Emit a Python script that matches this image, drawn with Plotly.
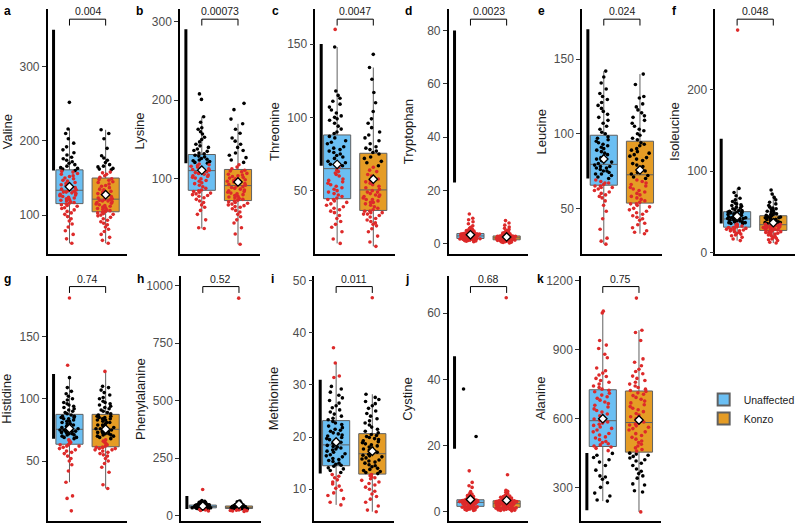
import numpy as np
import plotly.graph_objects as go

groups = ["Unaffected", "Konzo"]
letters = ["a", "b", "c", "d", "e", "f", "g", "h", "i", "j", "k"]
analytes = ["Valine", "Lysine", "Threonine", "Tryptophan", "Leucine", "Isoleucine",
            "Histidine", "Phenylalanine", "Methionine", "Cystine", "Alanine"]
p_values = ["0.004", "0.00073", "0.0047", "0.0023", "0.024", "0.048",
            "0.74", "0.52", "0.011", "0.68", "0.75"]
ref_low = [160, 120, 67, 23, 70, 36, 68, 29, 13, 19, 200]
ref_high = [350, 290, 150, 80, 170, 140, 120, 85, 31, 47, 450]
y_ranges = [[48, 378], [5, 316], [7, 174], [-3.7, 88.1], [19.6, 183.7], [-1, 299],
            [1.8, 198.4], [-24, 1040], [3.9, 50.8], [-2.9, 71.2], [153, 1220]]
y_ticks = [[100, 200, 300], [100, 200, 300], [50, 100, 150], [0, 20, 40, 60, 80],
           [50, 100, 150], [0, 100, 200, 300], [50, 100, 150], [0, 250, 500, 750, 1000],
           [10, 20, 30, 40, 50], [0, 20, 40, 60], [300, 600, 900, 1200]]

valine_unaffected = [62, 68, 74, 79, 84, 88, 92, 95, 98, 101, 103, 105, 107, 109, 110, 112, 113, 114, 115,
                     116, 117, 118, 119, 120, 121, 122, 123, 124, 125, 126, 127, 128, 129, 130, 131, 131, 132, 133,
                     134, 135, 137, 138, 140, 141, 143, 144, 146, 147, 149, 150, 152, 153, 155, 156, 158, 159, 160,
                     162, 163, 164, 166, 168, 170, 172, 174, 176, 178, 181, 184, 188, 192, 197, 203, 210, 216, 252]
valine_konzo = [62, 66, 70, 74, 78, 81, 84, 87, 89, 91, 93, 95, 97, 99, 100, 101, 102, 103, 104,
                105, 106, 107, 108, 109, 110, 111, 112, 113, 114, 115, 116, 117, 118, 119, 119, 120, 121, 121,
                122, 123, 125, 126, 128, 129, 131, 132, 134, 135, 137, 139, 140, 142, 144, 145, 147, 148, 149,
                151, 153, 155, 157, 158, 161, 162, 163, 165, 166, 168, 171, 174, 177, 180, 190, 203, 210, 215]
lysine_unaffected = [37, 38, 48, 55, 60, 64, 67, 70, 72, 74, 76, 78, 79, 80, 81, 82, 83, 84, 85,
                     86, 88, 90, 92, 94, 95, 97, 98, 100, 101, 102, 103, 104, 105, 106, 107, 108, 109, 110,
                     111, 112, 113, 114, 115, 116, 117, 118, 119, 120, 121, 122, 123, 124, 125, 126, 128, 129, 130,
                     132, 133, 135, 136, 138, 140, 142, 144, 147, 150, 153, 157, 160, 163, 165, 172, 179, 201, 208]
lysine_konzo = [17, 30, 38, 44, 48, 52, 55, 58, 60, 62, 64, 65, 66, 67, 68, 69, 70, 71, 72,
                73, 74, 75, 76, 77, 78, 79, 80, 81, 82, 83, 84, 85, 86, 87, 88, 89, 90, 91,
                92, 93, 94, 95, 96, 97, 98, 99, 100, 101, 102, 103, 104, 105, 106, 107, 109, 110, 111,
                113, 115, 118, 121, 124, 127, 130, 133, 136, 140, 144, 148, 152, 158, 163, 170, 176, 188, 196]
threonine_unaffected = [14, 17, 22, 25, 27, 29, 31, 33, 35, 36, 37, 38, 39, 40, 41, 42, 43, 44, 44,
                        45, 46, 47, 48, 49, 50, 51, 52, 53, 54, 55, 56, 57, 58, 60, 61, 62, 63, 64,
                        66, 67, 68, 69, 70, 72, 73, 74, 75, 76, 77, 78, 79, 80, 82, 83, 84, 86, 87,
                        89, 90, 92, 94, 96, 98, 99, 100, 101, 103, 105, 107, 109, 111, 113, 115, 118, 148, 160]
threonine_konzo = [12, 15, 19, 22, 24, 26, 27, 28, 29, 30, 31, 32, 33, 34, 34, 35, 35, 36, 36,
                   37, 38, 39, 40, 41, 42, 42, 43, 44, 44, 45, 46, 46, 47, 47, 48, 49, 49, 50,
                   51, 52, 53, 54, 55, 56, 57, 58, 60, 61, 63, 64, 66, 67, 69, 70, 72, 73, 75,
                   76, 77, 78, 79, 80, 82, 84, 86, 88, 90, 93, 96, 99, 104, 110, 117, 126, 134, 143]
tryptophan_unaffected = [0.8, 1.0, 1.1, 1.2, 1.3, 1.4, 1.5, 1.5, 1.6, 1.6, 1.7, 1.7, 1.8, 1.8, 1.8, 1.9, 1.9, 2.0, 2.0,
                         2.0, 2.1, 2.1, 2.2, 2.3, 2.3, 2.4, 2.4, 2.5, 2.5, 2.6, 2.6, 2.7, 2.7, 2.8, 2.8, 2.8, 2.9, 2.9,
                         3.0, 3.0, 3.1, 3.1, 3.2, 3.2, 3.3, 3.3, 3.4, 3.4, 3.5, 3.5, 3.6, 3.6, 3.7, 3.7, 3.7, 3.8, 3.8,
                         3.9, 4.0, 4.1, 4.2, 4.3, 4.4, 4.6, 4.8, 5.0, 5.2, 5.5, 5.8, 6.2, 6.8, 7.5, 8.3, 9.0, 9.6, 11.2]
tryptophan_konzo = [0.3, 0.5, 0.6, 0.7, 0.8, 0.9, 1.0, 1.0, 1.1, 1.1, 1.2, 1.2, 1.3, 1.3, 1.3, 1.4, 1.4, 1.5, 1.5,
                    1.5, 1.6, 1.6, 1.7, 1.7, 1.8, 1.8, 1.8, 1.9, 1.9, 2.0, 2.0, 2.0, 2.1, 2.1, 2.1, 2.2, 2.2, 2.2,
                    2.3, 2.3, 2.4, 2.4, 2.4, 2.5, 2.5, 2.5, 2.6, 2.6, 2.7, 2.7, 2.7, 2.8, 2.8, 2.8, 2.9, 2.9, 2.9,
                    3.0, 3.1, 3.2, 3.3, 3.4, 3.5, 3.6, 3.8, 4.0, 4.2, 4.4, 4.7, 5.0, 5.4, 5.8, 6.3, 7.0, 7.8, 8.7]
leucine_unaffected = [26, 28, 30, 36, 43, 48, 52, 55, 57, 58, 59, 60, 61, 62, 63, 64, 64, 65, 65,
                      66, 67, 67, 68, 69, 70, 71, 72, 73, 73, 74, 75, 75, 76, 77, 77, 78, 78, 79,
                      80, 81, 82, 83, 84, 85, 86, 87, 88, 89, 90, 91, 92, 93, 94, 95, 96, 97, 98,
                      100, 101, 103, 105, 107, 109, 111, 113, 115, 117, 119, 121, 123, 125, 127, 130, 134, 138, 142]
leucine_konzo = [33, 34, 35, 37, 39, 40, 42, 43, 44, 45, 46, 47, 48, 49, 50, 51, 52, 53, 53,
                 54, 55, 56, 57, 58, 59, 60, 61, 62, 63, 64, 65, 66, 67, 68, 69, 70, 71, 72,
                 73, 74, 75, 77, 78, 79, 80, 82, 83, 84, 85, 86, 87, 88, 89, 90, 92, 93, 94,
                 96, 97, 99, 100, 102, 103, 105, 107, 109, 111, 112, 114, 116, 118, 120, 124, 125, 133, 140]
isoleucine_unaffected = [15, 17, 19, 21, 22, 23, 24, 25, 26, 27, 27, 28, 28, 29, 29, 30, 30, 31, 31,
                         32, 33, 33, 34, 34, 35, 35, 36, 36, 37, 37, 38, 38, 39, 39, 40, 40, 41, 41,
                         42, 42, 43, 43, 44, 44, 45, 45, 46, 46, 47, 47, 48, 48, 49, 49, 49, 50, 50,
                         51, 52, 52, 53, 54, 55, 56, 57, 58, 59, 60, 61, 63, 65, 67, 70, 74, 79, 273]
isoleucine_konzo = [12, 13, 15, 16, 17, 18, 19, 20, 21, 22, 23, 23, 24, 25, 25, 26, 26, 27, 27,
                    28, 28, 29, 29, 29, 30, 30, 30, 31, 31, 31, 32, 32, 32, 33, 33, 33, 34, 34,
                    35, 35, 36, 36, 37, 37, 38, 38, 39, 40, 40, 41, 41, 42, 43, 43, 44, 44, 45,
                    46, 47, 47, 48, 49, 50, 51, 52, 53, 54, 55, 56, 58, 60, 62, 65, 68, 72, 77]
histidine_unaffected = [10, 20, 22, 33, 42, 47, 50, 52, 54, 56, 57, 58, 59, 60, 61, 62, 62, 63, 63,
                        64, 65, 66, 67, 68, 69, 69, 70, 71, 71, 72, 72, 73, 73, 74, 74, 74, 75, 75,
                        76, 76, 77, 78, 78, 79, 80, 80, 81, 82, 82, 83, 84, 84, 85, 85, 86, 86, 87,
                        88, 89, 90, 91, 92, 93, 94, 95, 96, 97, 99, 100, 102, 104, 106, 109, 117, 127, 181]
histidine_konzo = [28, 31, 41, 45, 48, 50, 52, 54, 55, 56, 57, 58, 59, 59, 60, 60, 61, 61, 61,
                   62, 63, 64, 65, 66, 67, 68, 69, 70, 70, 71, 71, 72, 72, 73, 73, 74, 74, 75,
                   76, 76, 77, 78, 79, 79, 80, 81, 81, 82, 83, 83, 84, 84, 85, 85, 86, 86, 87,
                   88, 89, 90, 91, 92, 93, 94, 95, 96, 97, 98, 100, 101, 103, 105, 107, 109, 110, 122]
phenylalanine_unaffected = [20, 22, 24, 26, 27, 28, 29, 30, 30, 31, 31, 32, 32, 32, 33, 33, 33, 33, 33,
                            34, 34, 34, 35, 35, 35, 36, 36, 36, 37, 37, 37, 37, 38, 38, 38, 38, 39, 39,
                            39, 40, 40, 40, 41, 41, 41, 42, 42, 42, 43, 43, 43, 44, 44, 44, 45, 45, 45,
                            46, 46, 47, 47, 48, 48, 49, 50, 51, 52, 53, 54, 55, 56, 58, 60, 62, 65, 113]
phenylalanine_konzo = [18, 20, 21, 22, 23, 24, 25, 26, 27, 28, 28, 29, 29, 29, 30, 30, 30, 30, 30,
                       31, 31, 31, 32, 32, 32, 33, 33, 33, 33, 34, 34, 34, 34, 35, 35, 35, 35, 35,
                       36, 36, 36, 37, 37, 37, 38, 38, 38, 38, 39, 39, 39, 39, 40, 40, 40, 41, 41,
                       42, 42, 43, 43, 44, 44, 45, 46, 47, 48, 49, 50, 51, 53, 55, 57, 60, 63, 945]
methionine_unaffected = [7.0, 7.5, 8.2, 8.8, 9.3, 9.8, 10.2, 10.6, 11.0, 11.4, 11.8, 12.2, 12.5, 12.8, 13.2, 13.6, 13.9, 14.1, 14.4,
                         14.6, 14.8, 15.0, 15.3, 15.5, 15.7, 15.9, 16.2, 16.4, 16.6, 16.8, 17.1, 17.3, 17.5, 17.7, 17.9, 18.1, 18.2, 18.4,
                         18.6, 18.8, 19.0, 19.3, 19.5, 19.7, 19.9, 20.2, 20.4, 20.6, 20.8, 21.1, 21.3, 21.5, 21.8, 22.1, 22.4, 22.7, 23.0,
                         23.3, 23.6, 24.0, 24.4, 24.8, 25.2, 25.6, 26.0, 26.5, 27.0, 27.5, 28.0, 28.6, 29.2, 29.7, 31.4, 31.7, 34.2, 37.1]
methionine_konzo = [5.7, 6.0, 6.8, 7.5, 8.1, 8.6, 9.1, 9.6, 10.0, 10.4, 10.8, 11.1, 11.4, 11.7, 12.0, 12.2, 12.4, 12.6, 12.8,
                    13.0, 13.2, 13.4, 13.6, 13.8, 14.0, 14.3, 14.5, 14.7, 15.0, 15.2, 15.4, 15.6, 15.8, 16.0, 16.2, 16.4, 16.5, 16.7,
                    16.9, 17.1, 17.3, 17.5, 17.7, 17.9, 18.1, 18.3, 18.5, 18.7, 18.9, 19.1, 19.3, 19.5, 19.7, 19.9, 20.1, 20.3, 20.5,
                    20.8, 21.1, 21.5, 21.9, 22.3, 22.7, 23.1, 23.5, 24.0, 24.5, 25.0, 25.5, 26.0, 26.4, 26.8, 27.2, 27.6, 28.2, 46.7]
cystine_unaffected = [0.3, 0.4, 0.5, 0.6, 0.7, 0.8, 0.9, 1.0, 1.0, 1.1, 1.1, 1.2, 1.2, 1.3, 1.3, 1.4, 1.4, 1.5, 1.5,
                      1.6, 1.7, 1.8, 1.9, 2.0, 2.0, 2.1, 2.2, 2.2, 2.3, 2.3, 2.4, 2.4, 2.5, 2.5, 2.6, 2.6, 2.7, 2.7,
                      2.8, 2.8, 2.9, 2.9, 2.9, 3.0, 3.0, 3.0, 3.1, 3.1, 3.1, 3.2, 3.2, 3.3, 3.3, 3.3, 3.4, 3.4, 3.5,
                      3.6, 3.7, 3.8, 3.9, 4.0, 4.2, 4.4, 4.6, 4.8, 5.0, 5.3, 5.6, 6.0, 7.3, 7.8, 8.8, 12.3, 22.7, 37.1]
cystine_konzo = [0.2, 0.3, 0.4, 0.5, 0.5, 0.6, 0.7, 0.7, 0.8, 0.8, 0.9, 0.9, 1.0, 1.0, 1.0, 1.1, 1.1, 1.2, 1.2,
                 1.3, 1.4, 1.5, 1.5, 1.6, 1.7, 1.7, 1.8, 1.8, 1.9, 1.9, 2.0, 2.0, 2.1, 2.1, 2.2, 2.2, 2.3, 2.3,
                 2.4, 2.4, 2.5, 2.5, 2.6, 2.6, 2.6, 2.7, 2.7, 2.8, 2.8, 2.9, 2.9, 2.9, 3.0, 3.0, 3.1, 3.1, 3.2,
                 3.3, 3.4, 3.5, 3.6, 3.7, 3.8, 3.9, 4.1, 4.3, 4.5, 4.7, 4.9, 5.2, 5.5, 5.8, 6.1, 6.4, 11.1, 64.7]
alanine_unaffected = [240, 245, 262, 275, 300, 320, 335, 345, 350, 375, 395, 410, 420, 430, 440, 448, 460, 470, 476,
                      480, 485, 490, 495, 500, 508, 515, 520, 528, 535, 542, 550, 557, 563, 570, 575, 580, 585, 589,
                      592, 598, 605, 612, 620, 628, 635, 642, 650, 658, 665, 672, 680, 688, 695, 702, 710, 717, 723,
                      728, 735, 742, 750, 758, 766, 775, 783, 790, 798, 808, 820, 865, 880, 905, 920, 940, 1060, 1068]
alanine_konzo = [193, 280, 285, 310, 315, 340, 350, 360, 370, 380, 395, 405, 415, 420, 428, 435, 440, 445, 449,
                 458, 465, 472, 480, 488, 495, 502, 510, 518, 526, 534, 542, 550, 556, 562, 568, 572, 576, 580,
                 585, 592, 600, 608, 615, 622, 630, 638, 645, 652, 660, 668, 676, 684, 692, 700, 706, 712, 718,
                 722, 728, 735, 742, 750, 758, 766, 775, 785, 795, 805, 815, 830, 845, 860, 940, 975, 985, 1125]

series = [
    (valine_unaffected, valine_konzo),
    (lysine_unaffected, lysine_konzo),
    (threonine_unaffected, threonine_konzo),
    (tryptophan_unaffected, tryptophan_konzo),
    (leucine_unaffected, leucine_konzo),
    (isoleucine_unaffected, isoleucine_konzo),
    (histidine_unaffected, histidine_konzo),
    (phenylalanine_unaffected, phenylalanine_konzo),
    (methionine_unaffected, methionine_konzo),
    (cystine_unaffected, cystine_konzo),
    (alanine_unaffected, alanine_konzo),
]

# layout geometry (pixels)
W, H = 800, 531
panel_left = [48, 181, 317, 451, 585, 719, 48, 182, 316, 451, 584]
panel_row = [0, 0, 0, 0, 0, 0, 1, 1, 1, 1, 1]
panel_w = 80
row_top = [6, 278]
row_bottom = [255, 527]

fill_colors = {"Unaffected": "#6BBFF3", "Konzo": "#E59C25"}
box_line = "#606060"
red = "#DD2A2A"
FONT = "Liberation Sans, Arial, sans-serif"

fig = go.Figure()
shapes = []
annotations = []

for i in range(11):
    n = i + 1
    xa = "x" if n == 1 else f"x{n}"
    ya = "y" if n == 1 else f"y{n}"
    lo, hi = ref_low[i], ref_high[i]
    means = []
    for gi, g in enumerate(groups):
        vals = np.array(series[i][gi], dtype=float)
        means.append(float(vals.mean()))
        fig.add_trace(go.Box(
            x=[g] * len(vals), y=vals, xaxis=xa, yaxis=ya,
            name=g, showlegend=(i == 0),
            fillcolor=fill_colors[g], line=dict(color=box_line, width=1),
            boxpoints="outliers", marker=dict(opacity=0, size=1),
            whiskerwidth=0, width=0.75, hoverinfo="skip",
        ))
        inside = vals[(vals >= lo) & (vals <= hi)]
        outside = vals[(vals < lo) | (vals > hi)]
        for sub, col in ((inside, "black"), (outside, red)):
            if len(sub) == 0:
                continue
            fig.add_trace(go.Box(
                x=[g] * len(sub), y=sub, xaxis=xa, yaxis=ya,
                name=g, showlegend=False, boxpoints="all", jitter=0.8, pointpos=0,
                fillcolor="rgba(0,0,0,0)", line=dict(color="rgba(0,0,0,0)", width=0),
                marker=dict(color=col, size=3.6), whiskerwidth=0, width=0.75,
                hoveron="points",
            ))
    fig.add_trace(go.Scatter(
        x=groups, y=means, xaxis=xa, yaxis=ya, mode="markers", showlegend=False,
        marker=dict(symbol="diamond", size=6.5, color="white", line=dict(color="black", width=1.3)),
    ))

    # reference range bar
    shapes.append(dict(type="line", xref=xa, yref=ya, x0=-0.44, x1=-0.44, y0=lo, y1=hi,
                       line=dict(color="black", width=3)))
    # bracket
    ydom = f"{ya} domain"
    for (x0, x1, y0, y1) in ((0, 0, 0.932, 0.958), (0, 1, 0.958, 0.958), (1, 1, 0.932, 0.958)):
        shapes.append(dict(type="line", xref=xa, yref=ydom, x0=x0, x1=x1, y0=y0, y1=y1,
                           line=dict(color="black", width=1)))
    annotations.append(dict(text=p_values[i], xref=xa, yref=ydom, x=0.5, y=0.958,
                            xanchor="center", yanchor="bottom", showarrow=False,
                            font=dict(size=10.5, color="#1a1a1a")))

    r = panel_row[i]
    L = panel_left[i]
    x_dom = [L / W, (L + panel_w) / W]
    y_dom = [1 - row_bottom[r] / H, 1 - row_top[r] / H]
    fig.layout[("xaxis" if n == 1 else f"xaxis{n}")] = dict(
        domain=x_dom, anchor=ya, range=[-0.6, 1.6], type="category",
        categoryorder="array", categoryarray=groups,
        showline=True, linecolor="black", linewidth=1.6, ticks="", showticklabels=False,
        showgrid=False, zeroline=False, fixedrange=True,
    )
    fig.layout[("yaxis" if n == 1 else f"yaxis{n}")] = dict(
        domain=y_dom, anchor=xa, range=y_ranges[i], tickvals=y_ticks[i],
        ticks="outside", ticklen=4, tickwidth=1, tickcolor="#333333",
        showline=True, linecolor="black", linewidth=1.6,
        tickfont=dict(size=12, color="#4D4D4D", family=FONT),
        showgrid=False, zeroline=False, fixedrange=True,
    )
    # y title
    annotations.append(dict(text=analytes[i], xref="paper", yref="paper",
                            x=(L - 41) / W, y=(y_dom[0] + y_dom[1]) / 2, textangle=-90,
                            xanchor="center", yanchor="middle", showarrow=False,
                            font=dict(size=13, color="#1a1a1a")))
    # panel letter
    ly = [8.5, 280.5][r]
    annotations.append(dict(text=f"<b>{letters[i]}</b>", xref="paper", yref="paper",
                            x=(L - 46) / W, y=1 - ly / H, xanchor="left", yanchor="middle",
                            showarrow=False, font=dict(size=12, color="black")))

fig.update_layout(
    width=W, height=H, margin=dict(l=0, r=0, t=0, b=0),
    paper_bgcolor="white", plot_bgcolor="white", boxmode="overlay",
    font=dict(family=FONT, color="#1a1a1a"),
    shapes=shapes, annotations=annotations,
    legend=dict(x=0.884, y=1 - 413 / H, xanchor="left", yanchor="middle",
                tracegroupgap=0, itemsizing="constant",
                font=dict(size=10.5, color="#1a1a1a"), bgcolor="rgba(0,0,0,0)"),
)

fig.write_html("out.html", config={"displayModeBar": False},
               post_script="document.body.style.margin='0px';")
